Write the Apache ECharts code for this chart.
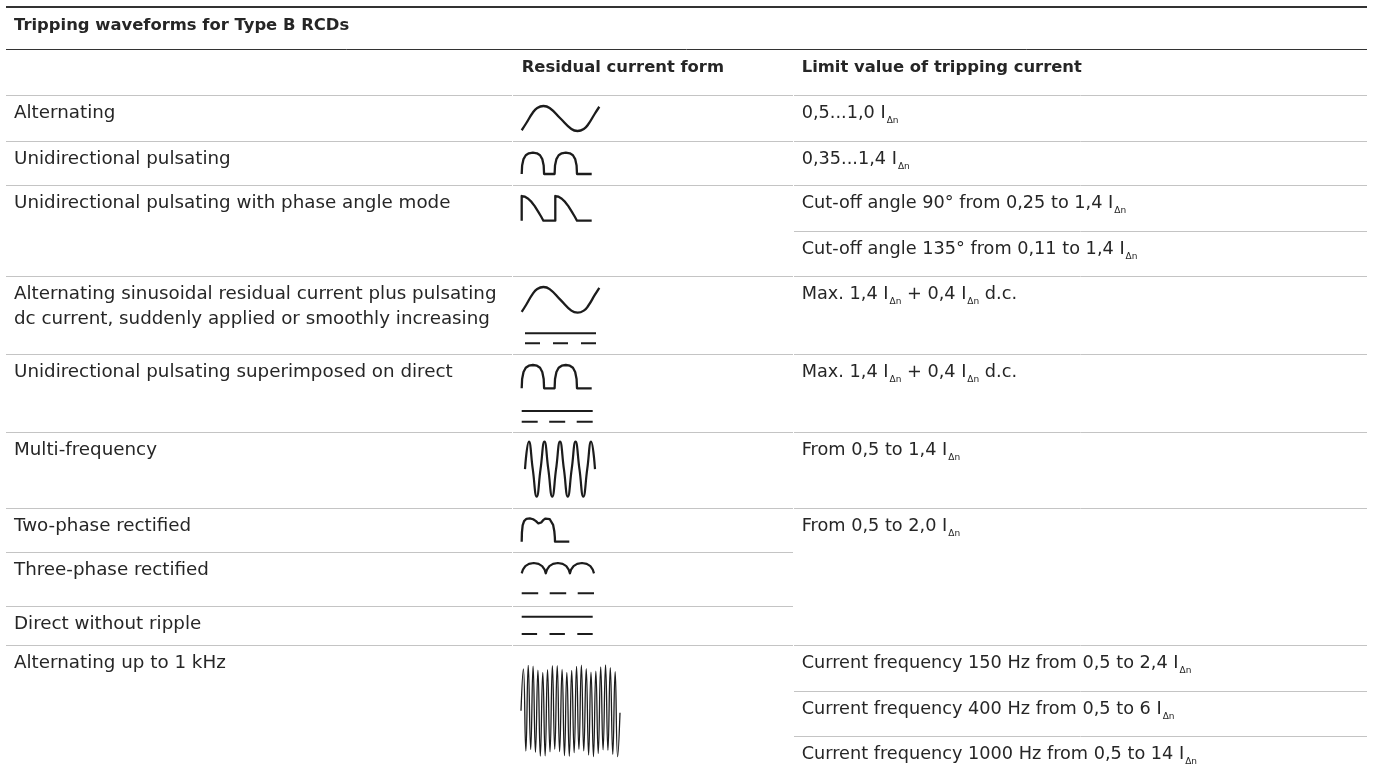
<!DOCTYPE html>
<html><head><meta charset="utf-8">
<script src="https://cdn.jsdelivr.net/npm/echarts@6/dist/echarts.min.js"></script>
<style>html,body{margin:0;padding:0;background:#fff}#c{width:1373px;height:776px}</style>
</head><body><div id="c"></div>
<script>
// ---------------- content ----------------
const tableTitle = 'Tripping waveforms for Type B RCDs';
const columnHeaders = ['Residual current form', 'Limit value of tripping current'];
const waveformNames = [
  'Alternating',
  'Unidirectional pulsating',
  'Unidirectional pulsating with phase angle mode',
  'Alternating sinusoidal residual current plus pulsating\ndc current, suddenly applied or smoothly increasing',
  'Unidirectional pulsating superimposed on direct',
  'Multi-frequency',
  'Two-phase rectified',
  'Three-phase rectified',
  'Direct without ripple',
  'Alternating up to 1 kHz'
];
const limitValues = [
  '0,5...1,0 I{s|Δn}',
  '0,35...1,4 I{s|Δn}',
  'Cut-off angle 90° from 0,25 to 1,4 I{s|Δn}',
  'Cut-off angle 135° from 0,11 to 1,4 I{s|Δn}',
  'Max. 1,4 I{s|Δn} + 0,4 I{s|Δn} d.c.',
  'Max. 1,4 I{s|Δn} + 0,4 I{s|Δn} d.c.',
  'From 0,5 to 1,4 I{s|Δn}',
  'From 0,5 to 2,0 I{s|Δn}',
  'Current frequency 150 Hz from 0,5 to 2,4 I{s|Δn}',
  'Current frequency 400 Hz from 0,5 to 6 I{s|Δn}',
  'Current frequency 1000 Hz from 0,5 to 14 I{s|Δn}'
];

// waveform pictograms: [x % of width, y % of height]
const sineWave = [[0,3],[6,32],[14,72],[20,92],[28,100],[36,92],[50,50],[64,8],[72,0],[80,8],[86,28],[94,68],[100,97]];
const pulsatingWave = [[0,0],[0.6,40],[2.6,70],[5.8,88],[10.2,97],[16,100],[21.8,97],[26.2,88],[29.4,70],[31.4,40],[32,0],
  [47,0],[47.6,40],[49.6,70],[52.8,88],[57.2,97],[63,100],[68.8,97],[73.2,88],[76.4,70],[78.4,40],[79,0],[100,0]];
const phaseAngleWave = [[0,0],[0,100],[4.7,97],[9.3,89],[14,76],[18.6,59],[23.3,38],[27.9,16],[31,0],
  [48,0],[48,100],[52.7,97],[57.3,89],[62,76],[66.6,59],[71.3,38],[75.9,16],[79,0],[100,0]];
const multiFrequencyWave = [[0,50],[5.6,100],[11.1,50],[16.7,0],[22.2,50],[27.8,100],[33.3,50],[38.9,0],[44.4,50],[50,100],
  [55.6,50],[61.1,0],[66.7,50],[72.2,100],[77.8,50],[83.3,0],[88.9,50],[94.4,100],[100,50]];
const twoPhaseWave = [[0,0],[0.5,40],[2,70],[5,88],[10,98],[17,100],[24,96],[30,88],[35,78],[38,70],
  [41,82],[45,92],[50,99],[54,100],[59,96],[63,88],[66,72],[68.5,45],[69.6,20],[70,0],[100,0]];
const threePhaseWave = [[0,0],[1.7,35],[5,70],[10,92],[16.7,100],[23.3,92],[28.3,70],[31.7,35],[33.3,0],
  [35,35],[38.3,70],[43.3,92],[50,100],[56.7,92],[61.7,70],[65,35],[66.7,0],
  [68.3,35],[71.7,70],[76.7,92],[83.3,100],[90,92],[95,70],[98.3,35],[100,0]];
const kiloHertzWave = [[0,50],[2.4,95.8],[4.9,6.1],[7.3,99.7],[9.8,7.9],[12.2,98.8],[14.6,4.7],[17.1,94.3],[19.5,0.6],[22,92],
  [24.4,0.9],[26.8,94.9],[29.3,5.3],[31.7,99.2],[34.1,8],[36.6,99.4],[39,5.6],[41.5,95.2],[43.9,1.1],[46.3,92],
  [48.8,0.4],[51.2,94],[53.7,4.4],[56.1,98.6],[58.5,7.9],[61,99.8],[63.4,6.3],[65.9,96.1],[68.3,1.8],[70.7,92.3],
  [73.2,0.1],[75.6,93.3],[78,3.5],[80.5,97.8],[82.9,7.5],[85.4,100],[87.8,7],[90.2,97],[92.7,2.6],[95.1,92.7],
  [97.6,0],[100,48]];
const dcSolid = [[0,1],[100,1]];
const dcDashed = [[0,0],[100,0]];

// ---------------- layout ----------------
const INK = '#1c1c1c', TXT = '#262626', RULE = '#c4c4c4', DARK = '#333333';
const FONT = 'DejaVu Sans';
const COLX = [14, 521.7, 801.7];
const SEG = [[6,512],[513,793],[794,1367]];
const nameRowY = [95.5,141.5,185.5,276.5,354.5,432.5,508.5,552.5,606.5,645.5];
const limitRowY = [95.5,141.5,185.5,231.5,276.5,354.5,432.5,508.5,645.5,691.5,736.5];
const rules = [
  {y:95.5, cols:[0,1,2]},{y:141.5, cols:[0,1,2]},{y:185.5, cols:[0,1,2]},{y:231.5, cols:[2]},
  {y:276.5, cols:[0,1,2]},{y:354.5, cols:[0,1,2]},{y:432.5, cols:[0,1,2]},{y:508.5, cols:[0,1,2]},
  {y:552.5, cols:[0,1]},{y:606.5, cols:[0,1]},{y:645.5, cols:[0,1,2]},{y:691.5, cols:[2]},{y:736.5, cols:[2]}
];
const TEXT_DY = 5.5;

const iconParts = [
  {box:[521.7,106,77.6,25], data:[sineWave], smooth:true, w:2.3},
  {box:[521.7,152.7,70,21.3], data:[pulsatingWave], w:2.3},
  {box:[521.7,196,70,24.7], data:[phaseAngleWave], w:2.3},
  {box:[521.7,287,77.6,25.7], data:[sineWave], smooth:true, w:2.3},
  {box:[525,333.3,71,10], data:[dcSolid, dcDashed], dash:[15,13], ymax:1, w:2},
  {box:[521.7,365,70,23.3], data:[pulsatingWave], w:2.3},
  {box:[521.7,411,71,10.7], data:[dcSolid, dcDashed], dash:[16,11.5], ymax:1, w:2},
  {box:[525,441.7,70,55], data:[multiFrequencyWave], smooth:true, w:2.2},
  {box:[521.7,518.3,47.6,23.4], data:[twoPhaseWave], w:2.3},
  {box:[521.7,563,72.3,10.3], data:[threePhaseWave], w:2.2},
  {box:[521.7,583.3,72.3,10], data:[dcDashed], dashAll:[16.5,11.5], ymax:1, w:2},
  {box:[521.7,616.7,71,17.3], data:[dcSolid, dcDashed], dash:[15.4,12.4], ymax:1, w:2},
  {box:[521,665,99,91.7], data:[kiloHertzWave], smooth:true, w:1.3}
];

// ---------------- build ----------------
const grid = [], xAxis = [], yAxis = [], series = [];
iconParts.forEach((p, i) => {
  grid.push({left:p.box[0], top:p.box[1], width:p.box[2], height:p.box[3], containLabel:false});
  xAxis.push({gridIndex:i, type:'value', min:0, max:100, show:false});
  yAxis.push({gridIndex:i, type:'value', min:0, max:p.ymax || 100, show:false});
  p.data.forEach((d, k) => {
    let type = 'solid';
    if (p.dashAll) type = p.dashAll;
    else if (p.dash && k === 1) type = p.dash;
    series.push({
      type:'line', xAxisIndex:i, yAxisIndex:i, data:d, smooth:!!p.smooth,
      symbol:'none', clip:false, silent:true, animation:false,
      lineStyle:{color:INK, width:p.w, type:type, cap:'butt', join:'round'}
    });
  });
});

function richFor(size) {
  return {s:{fontSize:9, fontFamily:FONT, fill:TXT, lineHeight:9, padding:[14,0,0,1], verticalAlign:'middle'}};
}
const graphics = [];
function hline(x1, x2, y, w, c) {
  graphics.push({type:'line', silent:true, shape:{x1:x1, y1:y, x2:x2, y2:y}, style:{stroke:c, lineWidth:w}});
}
function text(x, y, str, size, weight, lh) {
  graphics.push({type:'text', silent:true, x:x, y:y, style:{
    text:str, fontSize:size, fontFamily:FONT, fontWeight:weight, fill:TXT,
    lineHeight:lh, verticalAlign:'top', align:'left', rich:richFor(size)}});
}
hline(6, 1367, 7, 2, DARK);
hline(6, 1367, 49.5, 1, DARK);
rules.forEach(r => r.cols.forEach(c => hline(SEG[c][0], SEG[c][1], r.y, 1, RULE)));

text(COLX[0], 25.4 - 12.5, tableTitle, 16.4, 'bold', 25);
text(COLX[1], 68 - 12.5, columnHeaders[0], 16.4, 'bold', 25);
text(COLX[2], 68 - 12.5, columnHeaders[1], 16.4, 'bold', 25);
waveformNames.forEach((n, i) => text(COLX[0], nameRowY[i] + TEXT_DY, n, 18.3, 'normal', 25));
limitValues.forEach((n, i) => text(COLX[2], limitRowY[i] + TEXT_DY, n, 17.7, 'normal', 25));

const chart = echarts.init(document.getElementById('c'), null, {renderer:'canvas'});
chart.setOption({animation:false, backgroundColor:'#fff', grid, xAxis, yAxis, series, graphic:{elements:graphics}});
</script></body></html>
